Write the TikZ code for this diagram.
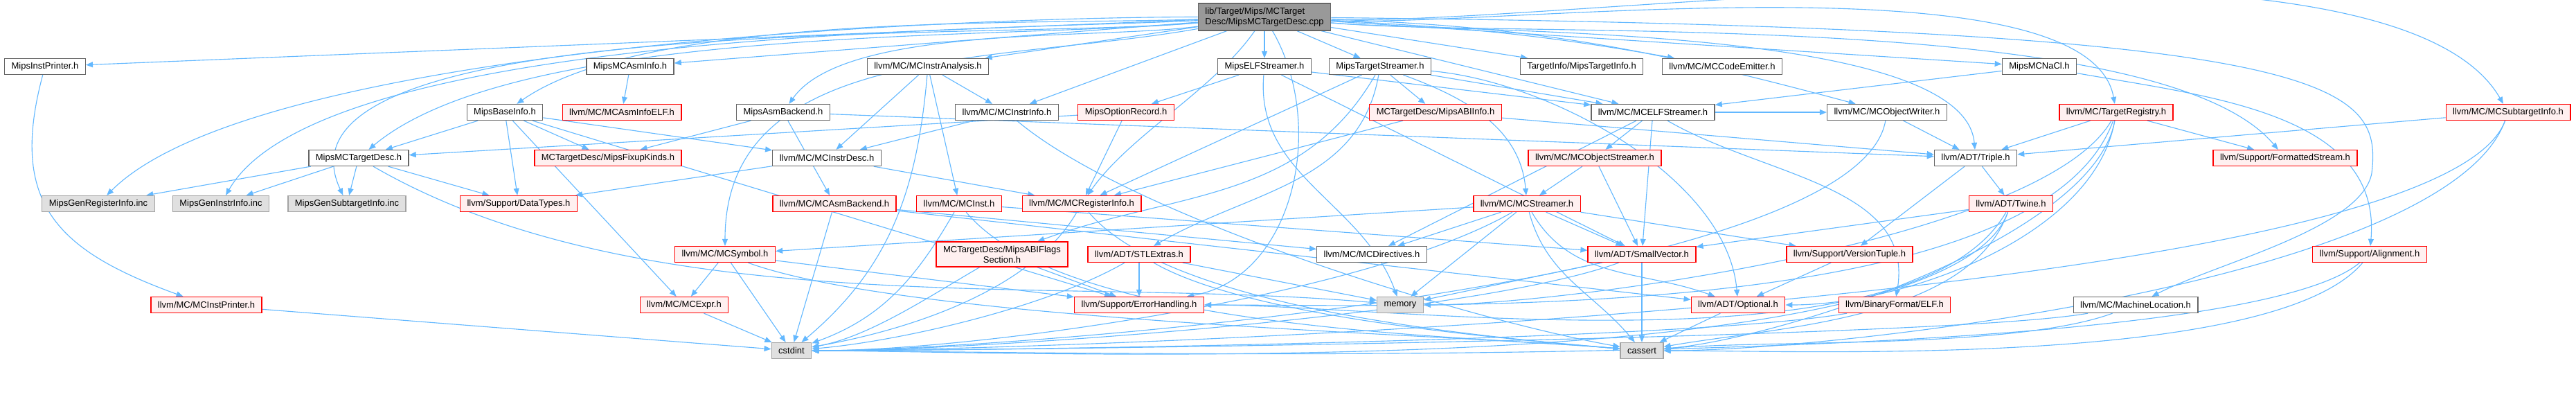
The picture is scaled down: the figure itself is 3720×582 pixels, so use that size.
\documentclass[tikz,border=0pt]{standalone}
\usepackage{fontspec}
\setmainfont{Liberation Sans}
\usetikzlibrary{arrows.meta}
\definecolor{edgeblue}{HTML}{63B8FF}
\definecolor{redfill}{HTML}{FFF0F0}
\definecolor{greyfill}{HTML}{E0E0E0}
\definecolor{rootfill}{HTML}{999999}
\definecolor{boxline}{HTML}{666666}
\pgfdeclarelayer{bg}
\pgfsetlayers{bg,main}
\begin{document}
\begin{tikzpicture}[x=0.25pt, y=-0.25pt, every node/.style={font=\fontsize{3.25}{3.75}\selectfont, inner xsep=2.5pt, inner ysep=0.5pt, minimum height=5.75pt, line width=0.33pt}, wbox/.style={draw=boxline, fill=white}, rbox/.style={draw=red, fill=redfill}, gbox/.style={draw=boxline!60, fill=greyfill}, rootbox/.style={draw=boxline, fill=rootfill, align=left, minimum height=9.75pt}, dep/.style={draw=edgeblue, line width=0.28pt, -{Triangle[length=2.5pt, width=2pt]}}]
	\useasboundingbox (0,0) rectangle (3720,582);
	\node[rootbox] (root) at (1826,24.5) {lib/Target/Mips/MCTarget\\Desc/MipsMCTargetDesc.cpp};
	\node[wbox] (instprinter) at (65,96) {MipsInstPrinter.h}; \node[wbox] (asminfo) at (910,96) {MipsMCAsmInfo.h}; \node[wbox] (instranalysis) at (1340,96) {llvm/MC/MCInstrAnalysis.h}; \node[wbox] (elfstreamer) at (1826,96) {MipsELFStreamer.h};
	\node[wbox] (targetstreamer) at (1993,96) {MipsTargetStreamer.h}; \node[wbox] (targetinfo) at (2284,96) {TargetInfo/MipsTargetInfo.h}; \node[wbox] (codeemitter) at (2487,96) {llvm/MC/MCCodeEmitter.h}; \node[wbox] (nacl) at (2945,96) {MipsMCNaCl.h};
	\node[wbox] (baseinfo) at (729,162) {MipsBaseInfo.h}; \node[rbox] (asminfoelf) at (898,162) {llvm/MC/MCAsmInfoELF.h}; \node[wbox] (asmbackend) at (1131,162) {MipsAsmBackend.h}; \node[wbox] (instrinfo) at (1454,162) {llvm/MC/MCInstrInfo.h}; \node[rbox] (optionrecord) at (1626,162) {MipsOptionRecord.h};
	\node[rbox] (abiinfo) at (2073,162) {MCTargetDesc/MipsABIInfo.h}; \node[wbox] (mcelfstreamer) at (2387,162) {llvm/MC/MCELFStreamer.h}; \node[wbox] (objwriter) at (2725,162) {llvm/MC/MCObjectWriter.h}; \node[rbox] (targetregistry) at (3056,162) {llvm/MC/TargetRegistry.h}; \node[rbox] (subtargetinfo) at (3622,162) {llvm/MC/MCSubtargetInfo.h};
	\node[wbox] (mctargetdesc) at (518,228) {MipsMCTargetDesc.h}; \node[rbox] (fixupkinds) at (878,228) {MCTargetDesc/MipsFixupKinds.h}; \node[wbox] (instrdesc) at (1194,228) {llvm/MC/MCInstrDesc.h}; \node[rbox] (objstreamer) at (2303,228) {llvm/MC/MCObjectStreamer.h}; \node[wbox] (triple) at (2853,228) {llvm/ADT/Triple.h}; \node[rbox] (formattedstream) at (3300,228) {llvm/Support/FormattedStream.h};
	\node[gbox] (genreg) at (142,294) {MipsGenRegisterInfo.inc}; \node[gbox] (geninstr) at (319,294) {MipsGenInstrInfo.inc}; \node[gbox] (gensub) at (501,294) {MipsGenSubtargetInfo.inc}; \node[rbox] (datatypes) at (749,294) {llvm/Support/DataTypes.h}; \node[rbox] (mcasmbackend) at (1205,294) {llvm/MC/MCAsmBackend.h};
	\node[rbox] (mcinst) at (1385,294) {llvm/MC/MCInst.h}; \node[rbox] (reginfo) at (1562,294) {llvm/MC/MCRegisterInfo.h}; \node[rbox] (mcstreamer) at (2205,294) {llvm/MC/MCStreamer.h}; \node[rbox] (twine) at (2904,294) {llvm/ADT/Twine.h};
	\node[rbox] (mcsymbol) at (1047,367) {llvm/MC/MCSymbol.h}; \node[rbox, align=center, minimum height=9pt] (abiflags) at (1447,367) {MCTargetDesc/MipsABIFlags\\Section.h}; \node[rbox] (stlextras) at (1645,367) {llvm/ADT/STLExtras.h}; \node[wbox] (directives) at (1981,367) {llvm/MC/MCDirectives.h};
	\node[rbox] (smallvector) at (2371,367) {llvm/ADT/SmallVector.h}; \node[rbox] (versiontuple) at (2671,367) {llvm/Support/VersionTuple.h}; \node[rbox] (alignment) at (3422,367) {llvm/Support/Alignment.h};
	\node[rbox] (mcinstprinter) at (298,440) {llvm/MC/MCInstPrinter.h}; \node[rbox] (mcexpr) at (988,440) {llvm/MC/MCExpr.h}; \node[rbox] (errorhandling) at (1645,440) {llvm/Support/ErrorHandling.h}; \node[gbox] (memory) at (2022,440) {memory};
	\node[rbox] (optional) at (2510,440) {llvm/ADT/Optional.h}; \node[rbox] (elf) at (2736,440) {llvm/BinaryFormat/ELF.h}; \node[wbox] (machineloc) at (3084,440) {llvm/MC/MachineLocation.h};
	\node[gbox] (cstdint) at (1143,506) {cstdint}; \node[gbox] (cassert) at (2371,506) {cassert};
	\begin{pgfonlayer}{bg}
		\foreach \a/\b in {root/instprinter, root/asminfo, root/instranalysis, root/instrinfo, root/elfstreamer, root/targetstreamer, root/targetinfo, root/mcelfstreamer, root/nacl, asminfo/asminfoelf, mcinstprinter/cstdint, mctargetdesc/genreg, mctargetdesc/geninstr, mctargetdesc/gensub, mctargetdesc/datatypes, baseinfo/mctargetdesc, baseinfo/fixupkinds, baseinfo/instrdesc, baseinfo/datatypes, baseinfo/mcexpr, baseinfo/errorhandling, asmbackend/fixupkinds, asmbackend/mcasmbackend, asmbackend/triple, instranalysis/instrinfo, instranalysis/mcinst, instranalysis/instrdesc, instrinfo/instrdesc, optionrecord/mctargetdesc, optionrecord/reginfo, instrdesc/datatypes, instrdesc/reginfo, mcasmbackend/cstdint, mcasmbackend/directives, mcasmbackend/optional, mcinst/smallvector, elfstreamer/optionrecord, elfstreamer/smallvector, elfstreamer/mcelfstreamer, targetstreamer/abiinfo, targetstreamer/reginfo, targetstreamer/mcelfstreamer, abiinfo/triple, abiinfo/reginfo, abiflags/errorhandling, stlextras/errorhandling, stlextras/memory, mcelfstreamer/objstreamer, mcelfstreamer/smallvector, mcelfstreamer/directives, mcelfstreamer/objwriter, objstreamer/smallvector, objstreamer/mcstreamer, mcstreamer/directives, mcstreamer/smallvector, mcstreamer/memory, mcstreamer/versiontuple, mcstreamer/mcsymbol, smallvector/cassert, smallvector/memory, optional/cassert, objwriter/triple, targetregistry/triple, targetregistry/formattedstream, triple/twine, triple/versiontuple, twine/smallvector, versiontuple/optional, subtargetinfo/triple, nacl/mcelfstreamer, mcsymbol/mcexpr, mcsymbol/cstdint, mcsymbol/errorhandling, mcexpr/cstdint} {\draw[dep] (\a) -- (\b);}
		\foreach \a/\b/\o/\i/\l in {instprinter/mcinstprinter/-105/160/1.3, root/genreg/180/45/0.5, root/geninstr/183/60/0.5, root/gensub/185/115/0.6, root/mctargetdesc/185/40/0.6, root/baseinfo/182/35/0.6, root/asmbackend/188/55/0.6, root/mcsymbol/190/90/1, root/reginfo/235/55/0.8, root/errorhandling/-60/10/1, root/codeemitter/-3/170/1, root/objwriter/-2/165/1, root/triple/-5/95/0.5, root/targetregistry/-3/100/0.5, root/subtargetinfo/-2/120/0.5, root/formattedstream/-5/130/0.5, instranalysis/cstdint/-95/40/1, mcinst/cstdint/-120/20/1, reginfo/cstdint/-120/10/0.8, abiflags/cstdint/-150/10/0.8, stlextras/cstdint/-150/5/0.7, mcstreamer/cstdint/-150/0/0.6, smallvector/cstdint/-160/0/0.5, objwriter/cstdint/-100/0/0.4, twine/cstdint/-110/0/0.4, elf/cstdint/-170/0/0.4, machineloc/cstdint/-170/0/0.3, subtargetinfo/cstdint/-110/0/0.3, alignment/cstdint/-140/0/0.3, instrinfo/cassert/-40/170/0.6, mcinst/cassert/-50/175/0.6, reginfo/cassert/-50/175/0.6, stlextras/cassert/-30/175/0.6, mcstreamer/cassert/-75/130/1, mcsymbol/cassert/-20/175/0.5, twine/cassert/-110/10/0.8, targetregistry/cassert/-100/5/0.6, machineloc/cassert/-160/5/0.6, subtargetinfo/cassert/-110/0/0.5, alignment/cassert/-130/0/0.5, mctargetdesc/memory/-30/175/0.8, elfstreamer/memory/-95/110/1, targetregistry/memory/-120/0/0.5, twine/errorhandling/-120/0/0.6, targetregistry/errorhandling/-110/0/0.6, targetstreamer/abiflags/-120/20/1, targetstreamer/stlextras/-100/30/1, targetstreamer/mcstreamer/-20/95/1, targetstreamer/optional/-5/95/0.8, mcstreamer/optional/-60/160/1, targetregistry/optional/-100/0/0.8, mcelfstreamer/elf/-30/80/1, nacl/alignment/-10/85/1} {\draw[dep] (\a) to[out=\o, in=\i, looseness=\l] (\b);}
		\draw[dep] (root) .. controls (3380,40) and (3440,120) .. (3425,250) .. controls (3410,330) and (3200,380) .. (machineloc);
	\end{pgfonlayer}
\end{tikzpicture}
\end{document}
